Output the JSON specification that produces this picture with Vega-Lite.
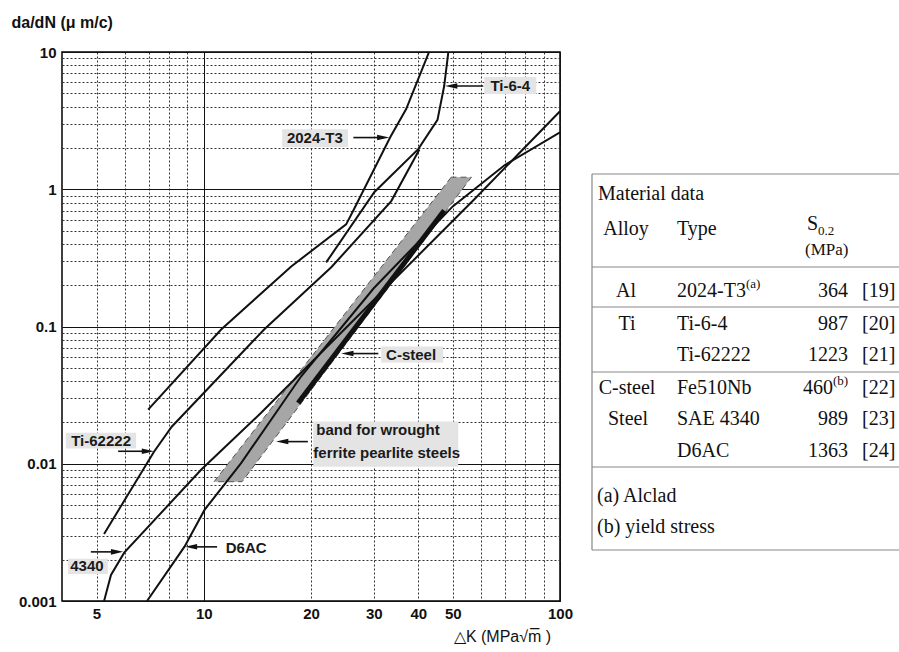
{
  "$schema": "https://vega.github.io/schema/vega-lite/v6.json",
  "padding": {"left": 10, "top": 13, "right": 0, "bottom": 0},
  "background": "white",
  "spacing": 17,
  "datasets": {
    "curves": [
      {"series": "2024-T3", "dk": 6.98, "dadn": 0.0248},
      {"series": "2024-T3", "dk": 11.19, "dadn": 0.0951},
      {"series": "2024-T3", "dk": 17.6, "dadn": 0.274},
      {"series": "2024-T3", "dk": 25.1, "dadn": 0.555},
      {"series": "2024-T3", "dk": 26.4, "dadn": 0.715},
      {"series": "2024-T3", "dk": 33.4, "dadn": 2.4},
      {"series": "2024-T3", "dk": 37.0, "dadn": 3.84},
      {"series": "2024-T3", "dk": 42.9, "dadn": 10},
      {"series": "Ti-62222", "dk": 5.25, "dadn": 0.00308},
      {"series": "Ti-62222", "dk": 7.25, "dadn": 0.01224},
      {"series": "Ti-62222", "dk": 8.13, "dadn": 0.0186},
      {"series": "Ti-62222", "dk": 14.77, "dadn": 0.0951},
      {"series": "Ti-62222", "dk": 22.8, "dadn": 0.27},
      {"series": "Ti-62222", "dk": 33.6, "dadn": 0.82},
      {"series": "Ti-62222", "dk": 40.3, "dadn": 1.95},
      {"series": "Ti-6-4", "dk": 22.06, "dadn": 0.293},
      {"series": "Ti-6-4", "dk": 30.1, "dadn": 0.951},
      {"series": "Ti-6-4", "dk": 40.0, "dadn": 1.96},
      {"series": "Ti-6-4", "dk": 45.3, "dadn": 3.2},
      {"series": "Ti-6-4", "dk": 47.3, "dadn": 5.65},
      {"series": "Ti-6-4", "dk": 48.6, "dadn": 10},
      {"series": "4340", "dk": 5.25, "dadn": 0.001},
      {"series": "4340", "dk": 5.49, "dadn": 0.00155},
      {"series": "4340", "dk": 5.98, "dadn": 0.00225},
      {"series": "4340", "dk": 9.83, "dadn": 0.00904},
      {"series": "4340", "dk": 14.49, "dadn": 0.0235},
      {"series": "4340", "dk": 30, "dadn": 0.156},
      {"series": "4340", "dk": 57.5, "dadn": 0.845},
      {"series": "4340", "dk": 100, "dadn": 3.7},
      {"series": "D6AC", "dk": 6.93, "dadn": 0.001},
      {"series": "D6AC", "dk": 8.83, "dadn": 0.00249},
      {"series": "D6AC", "dk": 10.05, "dadn": 0.00461},
      {"series": "D6AC", "dk": 12.73, "dadn": 0.0101},
      {"series": "D6AC", "dk": 18.77, "dadn": 0.0434},
      {"series": "D6AC", "dk": 30, "dadn": 0.19},
      {"series": "D6AC", "dk": 50, "dadn": 0.75},
      {"series": "D6AC", "dk": 70, "dadn": 1.5},
      {"series": "D6AC", "dk": 100, "dadn": 2.6}
    ],
    "csteel": [
      {"series": "C-steel", "dk": 18.4, "dadn": 0.0277},
      {"series": "C-steel", "dk": 47.3, "dadn": 0.7}
    ],
    "band": [
      {"dadn": 0.0074, "dk": 10.69, "dk2": 12.81},
      {"dadn": 1.224, "dk": 49.5, "dk2": 56.4}
    ],
    "labelboxes": [
      {"dk": 16.6, "dk2": 25.4, "dadn": 2.03, "dadn2": 2.74},
      {"dk": 61.3, "dk2": 85.8, "dadn": 4.94, "dadn2": 6.57},
      {"dk": 31.5, "dk2": 47.0, "dadn": 0.0546, "dadn2": 0.0714},
      {"dk": 20.3, "dk2": 51.8, "dadn": 0.0095, "dadn2": 0.0203},
      {"dk": 4.1, "dk2": 6.46, "dadn": 0.0129, "dadn2": 0.0168},
      {"dk": 4.16, "dk2": 5.38, "dadn": 0.00157, "dadn2": 0.00203}
    ],
    "arrows": [
      {"name": "2024-T3", "dk": 26.3, "dk2": 31.9, "dadn": 2.38, "dir": "right"},
      {"name": "Ti-6-4", "dk": 60.9, "dk2": 49.5, "dadn": 5.65, "dir": "left"},
      {"name": "C-steel", "dk": 30.9, "dk2": 25.3, "dadn": 0.0635, "dir": "left"},
      {"name": "band", "dk": 19.6, "dk2": 16.6, "dadn": 0.0145, "dir": "left"},
      {"name": "Ti-62222", "dk": 5.75, "dk2": 6.97, "dadn": 0.01233, "dir": "right"},
      {"name": "4340", "dk": 4.82, "dk2": 5.71, "dadn": 0.00228, "dir": "right"},
      {"name": "D6AC", "dk": 10.9, "dk2": 9.21, "dadn": 0.00248, "dir": "left"}
    ],
    "labels": [
      {"t": "2024-T3", "dk": 20.5, "dadn": 2.357},
      {"t": "Ti-6-4", "dk": 72.5, "dadn": 5.65},
      {"t": "C-steel", "dk": 38.2, "dadn": 0.0625},
      {"t": "Ti-62222", "dk": 5.15, "dadn": 0.0147},
      {"t": "4340", "dk": 4.7, "dadn": 0.0018},
      {"t": "D6AC", "dk": 13.15, "dadn": 0.00244}
    ],
    "bandlabels": [
      {"t": "band for wrought", "dk": 20.7, "dadn": 0.0177},
      {"t": "ferrite pearlite steels", "dk": 20.3, "dadn": 0.012}
    ],
    "tablerules": [
      {"x": 0, "x2": 320, "y": 122, "y2": 122},
      {"x": 0, "x2": 0, "y": 122, "y2": 498},
      {"x": 0, "x2": 320, "y": 215, "y2": 215},
      {"x": 0, "x2": 320, "y": 255, "y2": 255},
      {"x": 0, "x2": 320, "y": 320, "y2": 320},
      {"x": 0, "x2": 320, "y": 415, "y2": 415},
      {"x": 0, "x2": 320, "y": 498, "y2": 498}
    ],
    "tableleft": [
      {"x": 6, "y": 142, "t": "Material data", "fs": 20},
      {"x": 85, "y": 177, "t": "Type", "fs": 20},
      {"x": 215, "y": 172, "t": "S", "fs": 20},
      {"x": 226, "y": 179, "t": "0.2", "fs": 13},
      {"x": 213, "y": 198, "t": "(MPa)", "fs": 17},
      {"x": 85, "y": 239, "t": "2024-T3", "fs": 20},
      {"x": 154, "y": 232, "t": "(a)", "fs": 13},
      {"x": 85, "y": 272, "t": "Ti-6-4", "fs": 20},
      {"x": 85, "y": 303, "t": "Ti-62222", "fs": 20},
      {"x": 85, "y": 336, "t": "Fe510Nb", "fs": 20},
      {"x": 241, "y": 329, "t": "(b)", "fs": 13},
      {"x": 85, "y": 367, "t": "SAE 4340", "fs": 20},
      {"x": 85, "y": 399, "t": "D6AC", "fs": 20},
      {"x": 270, "y": 239, "t": "[19]", "fs": 20},
      {"x": 270, "y": 272, "t": "[20]", "fs": 20},
      {"x": 270, "y": 303, "t": "[21]", "fs": 20},
      {"x": 270, "y": 336, "t": "[22]", "fs": 20},
      {"x": 270, "y": 367, "t": "[23]", "fs": 20},
      {"x": 270, "y": 399, "t": "[24]", "fs": 20},
      {"x": 5, "y": 444, "t": "(a) Alclad", "fs": 20},
      {"x": 5, "y": 475, "t": "(b) yield stress", "fs": 20}
    ],
    "tablecenter": [
      {"x": 34, "y": 177, "t": "Alloy"},
      {"x": 34, "y": 239, "t": "Al"},
      {"x": 35, "y": 272, "t": "Ti"},
      {"x": 35, "y": 336, "t": "C-steel"},
      {"x": 36, "y": 367, "t": "Steel"}
    ],
    "tableright": [
      {"x": 256, "y": 239, "t": "364"},
      {"x": 256, "y": 272, "t": "987"},
      {"x": 256, "y": 303, "t": "1223"},
      {"x": 241, "y": 336, "t": "460"},
      {"x": 256, "y": 367, "t": "989"},
      {"x": 256, "y": 399, "t": "1363"}
    ]
  },
  "hconcat": [
    {
      "width": 498,
      "height": 549,
      "view": {"stroke": "#000", "strokeWidth": 1.5},
      "encoding": {
        "x": {
          "field": "dk", "type": "quantitative",
          "scale": {"type": "log", "domain": [4, 100], "nice": false},
          "axis": {
            "values": [5, 6, 7, 8, 9, 10, 20, 30, 40, 50, 60, 70, 80, 90, 100],
            "labelExpr": "indexof([5,10,20,30,40,50,100], datum.value) >= 0 ? format(datum.value, '~g') : ''",
            "grid": true,
            "gridColor": {"condition": {"test": "datum.value == 10 || datum.value == 100", "value": "#111"}, "value": "#333"},
            "gridDash": {"condition": {"test": "datum.value == 10 || datum.value == 100", "value": []}, "value": [2, 2]},
            "gridWidth": 1,
            "ticks": false,
            "domain": false,
            "labelFont": "Liberation Sans", "labelFontWeight": "bold", "labelFontSize": 15, "labelColor": "#111",
            "labelPadding": 5, "labelFlush": false, "labelOverlap": false,
            "title": "△K (MPa√m̅ )",
            "titleFont": "Liberation Sans", "titleFontSize": 16, "titleFontWeight": "normal", "titleColor": "#111",
            "titleX": 440, "titleY": 35, "titleAlign": "center", "titleBaseline": "middle"
          }
        },
        "y": {
          "field": "dadn", "type": "quantitative",
          "scale": {"type": "log", "domain": [0.001, 10], "nice": false},
          "axis": {
            "values": [0.001, 0.002, 0.003, 0.004, 0.005, 0.006, 0.007, 0.008, 0.009, 0.01, 0.02, 0.03, 0.04, 0.05, 0.06, 0.07, 0.08, 0.09, 0.1, 0.2, 0.3, 0.4, 0.5, 0.6, 0.7, 0.8, 0.9, 1, 2, 3, 4, 5, 6, 7, 8, 9, 10],
            "labelExpr": "abs(log(datum.value)/LN10 - round(log(datum.value)/LN10)) < 0.000001 ? format(datum.value, '~g') : ''",
            "grid": true,
            "gridColor": {"condition": {"test": "abs(log(datum.value)/LN10 - round(log(datum.value)/LN10)) < 0.000001", "value": "#111"}, "value": "#333"},
            "gridDash": {"condition": {"test": "abs(log(datum.value)/LN10 - round(log(datum.value)/LN10)) < 0.000001", "value": []}, "value": [2, 2]},
            "gridWidth": 1,
            "ticks": false,
            "domain": false,
            "labelFont": "Liberation Sans", "labelFontWeight": "bold", "labelFontSize": 15, "labelColor": "#111",
            "labelPadding": 6, "labelFlush": false, "labelOverlap": false,
            "title": "da/dN  (μ m/c)",
            "titleFont": "Liberation Sans", "titleFontSize": 16, "titleFontWeight": "bold", "titleColor": "#111",
            "titleAngle": 0, "titleX": -51, "titleY": -30, "titleAlign": "left", "titleBaseline": "middle"
          }
        }
      },
      "layer": [
        {
          "data": {"name": "band"},
          "mark": {"type": "area", "orient": "horizontal", "fill": "#a6a6a6", "stroke": "#555", "strokeDash": [6, 4], "strokeWidth": 1, "clip": true},
          "encoding": {"x2": {"field": "dk2"}}
        },
        {
          "data": {"name": "curves"},
          "mark": {"type": "line", "color": "#111", "strokeWidth": 2, "clip": true},
          "encoding": {"detail": {"field": "series"}}
        },
        {
          "data": {"name": "csteel"},
          "mark": {"type": "line", "color": "#111", "strokeWidth": 5, "clip": true},
          "encoding": {"detail": {"field": "series"}}
        },
        {
          "data": {"name": "labelboxes"},
          "mark": {"type": "rect", "color": "#e4e4e4"},
          "encoding": {"x2": {"field": "dk2"}, "y2": {"field": "dadn2"}}
        },
        {
          "data": {"name": "arrows"},
          "mark": {"type": "rule", "color": "#111", "strokeWidth": 1.6},
          "encoding": {"x2": {"field": "dk2"}}
        },
        {
          "data": {"name": "arrows"},
          "mark": {"type": "point", "filled": true, "color": "#111", "opacity": 1, "size": 150},
          "encoding": {
            "x": {"field": "dk2", "type": "quantitative"},
            "shape": {"field": "dir", "type": "nominal", "scale": {"domain": ["left", "right"], "range": ["M1,-0.45L-1,0L1,0.45Z", "M-1,-0.45L1,0L-1,0.45Z"]}, "legend": null}
          }
        },
        {
          "data": {"name": "labels"},
          "mark": {"type": "text", "font": "Liberation Sans", "fontWeight": "bold", "fontSize": 15, "color": "#1a1a1a", "align": "center", "baseline": "middle"},
          "encoding": {"text": {"field": "t"}}
        },
        {
          "data": {"name": "bandlabels"},
          "mark": {"type": "text", "font": "Liberation Sans", "fontWeight": "bold", "fontSize": 15, "color": "#1a1a1a", "align": "left", "baseline": "middle"},
          "encoding": {"text": {"field": "t"}}
        }
      ]
    },
    {
      "width": 307,
      "height": 549,
      "view": {"stroke": null},
      "encoding": {
        "x": {"field": "x", "type": "quantitative", "scale": {"domain": [0, 307], "nice": false, "zero": false}, "axis": null},
        "y": {"field": "y", "type": "quantitative", "scale": {"domain": [0, 549], "reverse": true, "nice": false, "zero": false}, "axis": null}
      },
      "layer": [
        {
          "data": {"name": "tablerules"},
          "mark": {"type": "rule", "color": "#888", "strokeWidth": 1.2},
          "encoding": {"x2": {"field": "x2"}, "y2": {"field": "y2"}}
        },
        {
          "data": {"name": "tableleft"},
          "mark": {"type": "text", "font": "Liberation Serif", "color": "#111", "align": "left", "baseline": "middle"},
          "encoding": {"text": {"field": "t"}, "size": {"field": "fs", "type": "quantitative", "scale": null}}
        },
        {
          "data": {"name": "tablecenter"},
          "mark": {"type": "text", "font": "Liberation Serif", "fontSize": 20, "color": "#111", "align": "center", "baseline": "middle"},
          "encoding": {"text": {"field": "t"}}
        },
        {
          "data": {"name": "tableright"},
          "mark": {"type": "text", "font": "Liberation Serif", "fontSize": 20, "color": "#111", "align": "right", "baseline": "middle"},
          "encoding": {"text": {"field": "t"}}
        }
      ]
    }
  ]
}
